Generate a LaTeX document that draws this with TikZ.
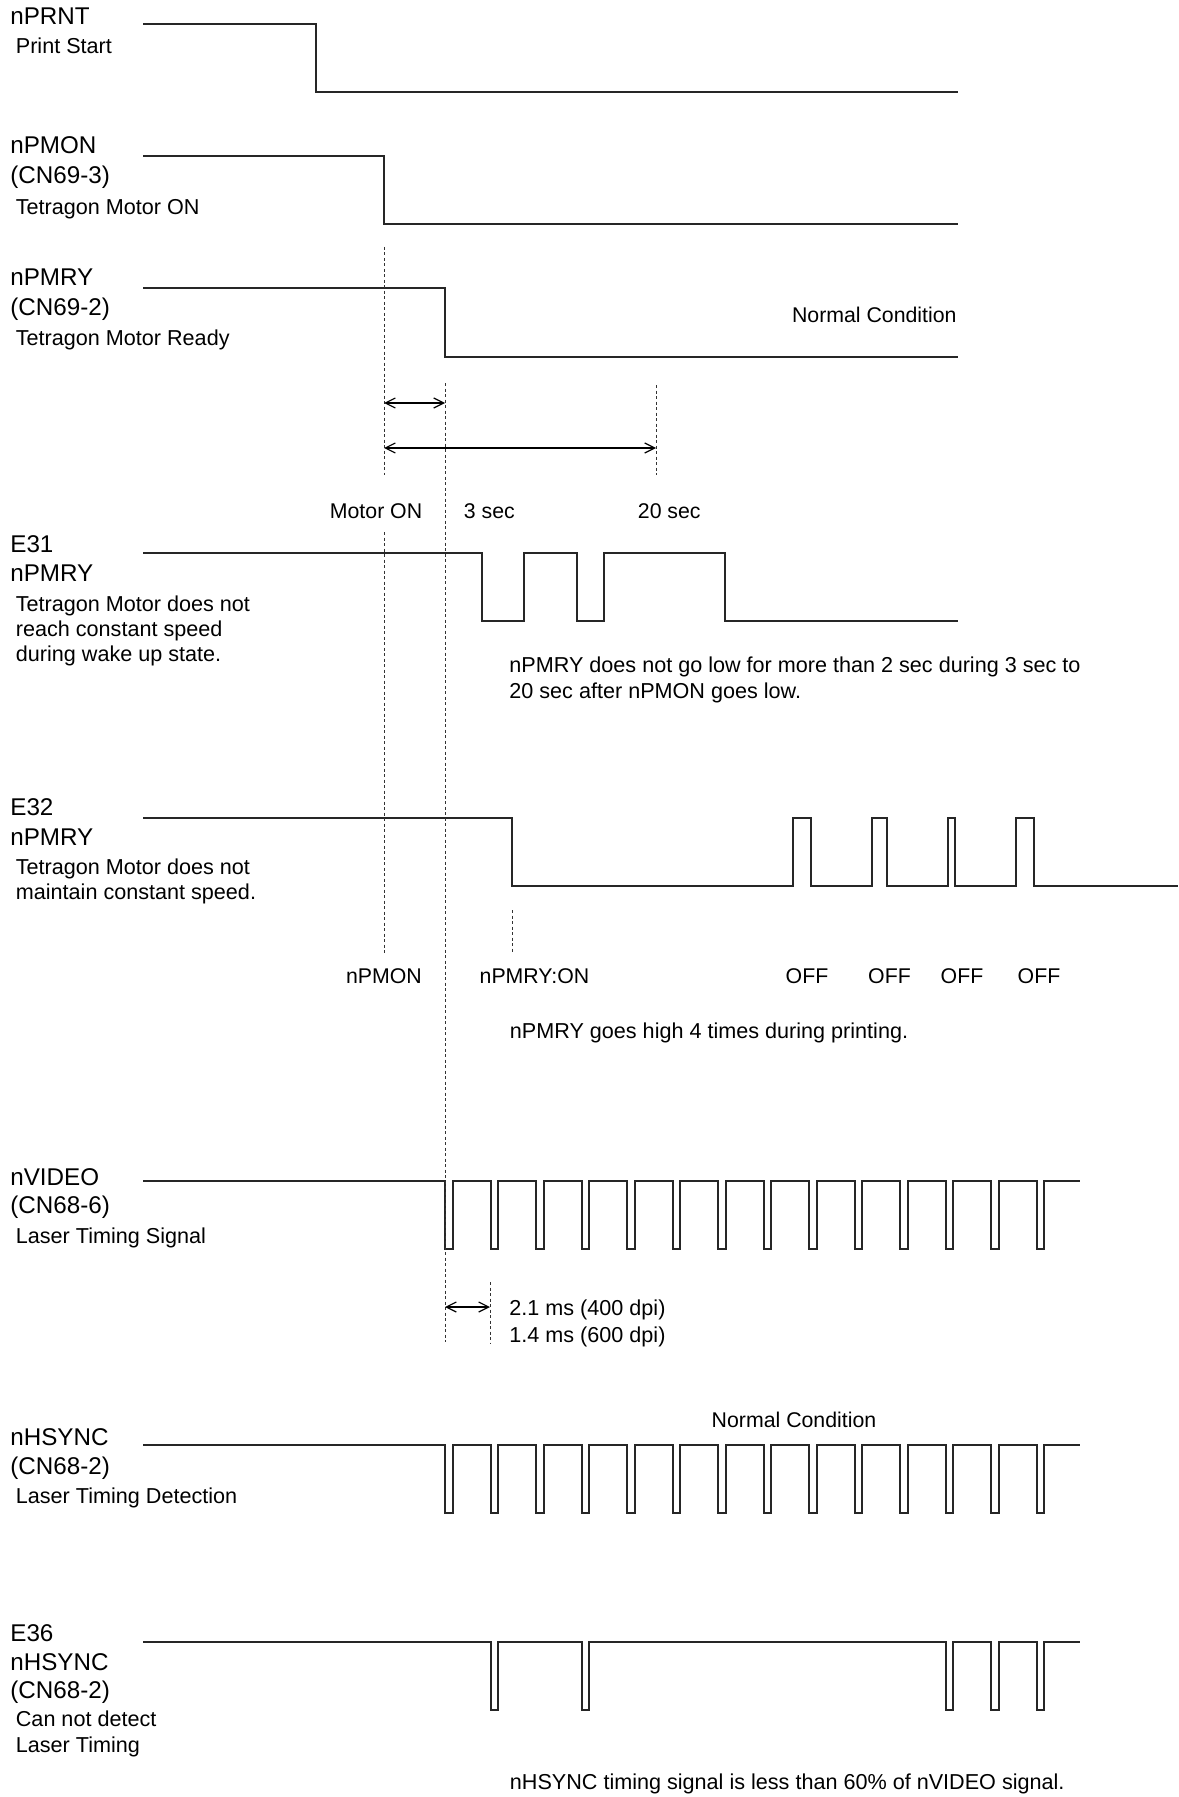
\documentclass[tikz,border=0pt]{standalone}
\usepackage{fontspec}
\setmainfont{Liberation Sans}
\usetikzlibrary{arrows.meta}
\tikzset{
  wave/.style={line width=1pt, draw=black!85, line join=miter},
  guide/.style={line width=0.5pt, draw=black!80, dash pattern=on 1.5pt off 1.25pt},
  dimarrow/.style={line width=0.6pt, {Straight Barb[length=5pt,width=5pt]}-{Straight Barb[length=5pt,width=5pt]}},
  sig/.style={anchor=base west, inner sep=0pt, font=\fontsize{12.1}{14}\selectfont},
  desc/.style={anchor=base west, inner sep=0pt, font=\fontsize{10.8}{13}\selectfont},
  lbl/.style={anchor=base, inner sep=0pt, font=\fontsize{10.65}{13}\selectfont},
}
\begin{document}
\begin{tikzpicture}[x=0.5pt, y=-0.5pt]
\path[use as bounding box, fill=white] (0,0) rectangle (1178,1797);

% ---------- left labels ----------
\node[sig]  (l1a) at (10,24.5)  {nPRNT};
\node[desc] (l1b) at (15.5,53.5) {Print Start};

\node[sig]  (l2a) at (10,153.5) {nPMON};
\node[sig]  (l2b) at (10,183.5) {(CN69-3)};
\node[desc] (l2c) at (15.5,214.5) {Tetragon Motor ON};

\node[sig]  (l3a) at (10,286) {nPMRY};
\node[sig]  (l3b) at (10,315.5) {(CN69-2)};
\node[desc] (l3c) at (15.5,346) {Tetragon Motor Ready};

\node[sig]  (l4a) at (10,552) {E31};
\node[sig]  (l4b) at (10,581) {nPMRY};
\node[desc] (l4c) at (15.5,611) {Tetragon Motor does not};
\node[desc] (l4d) at (15.5,636) {reach constant speed};
\node[desc] (l4e) at (15.5,661) {during wake up state.};

\node[sig]  (l5a) at (10,815) {E32};
\node[sig]  (l5b) at (10,845) {nPMRY};
\node[desc] (l5c) at (15.5,874.5) {Tetragon Motor does not};
\node[desc] (l5d) at (15.5,899.5) {maintain constant speed.};

\node[sig]  (l6a) at (10,1185.5) {nVIDEO};
\node[sig]  (l6b) at (10,1213.5) {(CN68-6)};
\node[desc] (l6c) at (15.5,1243) {Laser Timing Signal};

\node[sig]  (l7a) at (10,1445) {nHSYNC};
\node[sig]  (l7b) at (10,1474) {(CN68-2)};
\node[desc] (l7c) at (15.5,1503) {Laser Timing Detection};

\node[sig]  (l8a) at (10,1641.5) {E36};
\node[sig]  (l8b) at (10,1670) {nHSYNC};
\node[sig]  (l8c) at (10,1698.5) {(CN68-2)};
\node[desc] (l8d) at (15.5,1726.5) {Can not detect};
\node[desc] (l8e) at (15.5,1752.5) {Laser Timing};

% ---------- waveforms ----------
\draw[wave] (143,24) -- (316,24) -- (316,92) -- (958,92);
\draw[wave] (143,156) -- (384,156) -- (384,224) -- (958,224);
\draw[wave] (143,288) -- (445,288) -- (445,357) -- (958,357);

\draw[wave] (143,553) -- (482,553) -- (482,621) -- (524,621) -- (524,553)
  -- (577,553) -- (577,621) -- (604,621) -- (604,553) -- (725,553) -- (725,621) -- (958,621);

\draw[wave] (143,818) -- (512,818) -- (512,886)
  -- (793,886) -- (793,818) -- (811,818) -- (811,886)
  -- (872,886) -- (872,818) -- (887,818) -- (887,886)
  -- (948,886) -- (948,818) -- (955,818) -- (955,886)
  -- (1016,886) -- (1016,818) -- (1034,818) -- (1034,886) -- (1178,886);

\draw[wave] (143,1181) \foreach \k in {0,...,13} {
   -- ({445+45.5*\k},1181) -- ({445+45.5*\k},1249) -- ({452.5+45.5*\k},1249) -- ({452.5+45.5*\k},1181) }
   -- (1080,1181);

\draw[wave] (143,1445) \foreach \k in {0,...,13} {
   -- ({445+45.5*\k},1445) -- ({445+45.5*\k},1513) -- ({452.5+45.5*\k},1513) -- ({452.5+45.5*\k},1445) }
   -- (1080,1445);

\draw[wave] (143,1642) \foreach \k in {1,3,11,12,13} {
   -- ({445+45.5*\k},1642) -- ({445+45.5*\k},1710) -- ({452.5+45.5*\k},1710) -- ({452.5+45.5*\k},1642) }
   -- (1080,1642);

% ---------- guide lines ----------
\coordinate (gA1) at (384,247);
\coordinate (gA2) at (384,475);
\coordinate (gA3) at (384,532);
\coordinate (gA4) at (384,955);
\coordinate (gB1) at (445,383);
\coordinate (gB2) at (445,1342);
\coordinate (gC1) at (656,385);
\coordinate (gC2) at (656,475);
\coordinate (gD1) at (512,910);
\coordinate (gD2) at (512,953);
\coordinate (gE1) at (490,1282);
\coordinate (gE2) at (490,1343);
\draw[guide] (gA1) -- (gA2);
\draw[guide] (gA3) -- (gA4);
\draw[guide] (gB1) -- (gB2);
\draw[guide] (gC1) -- (gC2);
\draw[guide] (gD1) -- (gD2);
\draw[guide] (gE1) -- (gE2);

% ---------- dimension arrows ----------
\coordinate (a1l) at (384,403);
\coordinate (a1r) at (445,403);
\coordinate (a2l) at (384,448);
\coordinate (a2r) at (656,448);
\coordinate (a3l) at (445,1307);
\coordinate (a3r) at (490,1307);
\draw[dimarrow] (a1l) -- (a1r);
\draw[dimarrow] (a2l) -- (a2r);
\draw[dimarrow] (a3l) -- (a3r);

% ---------- annotations ----------
\node[lbl, anchor=base east] (nc1) at (957,322) {Normal Condition};
\node[lbl, anchor=base west] (mon) at (329.5,518.5) {Motor ON};
\node[lbl, anchor=base west] (s3)  at (463.5,518.5) {3 sec};
\node[lbl, anchor=base west] (s20) at (637.5,518.5) {20 sec};

\node[desc] (t31a) at (509,672.5) {nPMRY does not go low for more than 2 sec during 3 sec to};
\node[desc] (t31b) at (509,698.5) {20 sec after nPMON goes low.};

\node[lbl] (e32a) at (384,983) {nPMON};
\node[lbl] (e32b) at (534.5,983) {nPMRY:ON};
\node[lbl] (off1) at (807,983) {OFF};
\node[lbl] (off2) at (889.5,983) {OFF};
\node[lbl] (off3) at (962,983) {OFF};
\node[lbl] (off4) at (1039,983) {OFF};
\node[desc] (t32) at (509.5,1038.5) {nPMRY goes high 4 times during printing.};

\node[desc] (tms1) at (509,1315.5) {2.1 ms (400 dpi)};
\node[desc] (tms2) at (509,1342) {1.4 ms (600 dpi)};

\node[lbl] (nc2) at (794,1427) {Normal Condition};

\node[desc] (t36) at (509.5,1789) {nHSYNC timing signal is less than 60\% of nVIDEO signal.};
\end{tikzpicture}
\end{document}
